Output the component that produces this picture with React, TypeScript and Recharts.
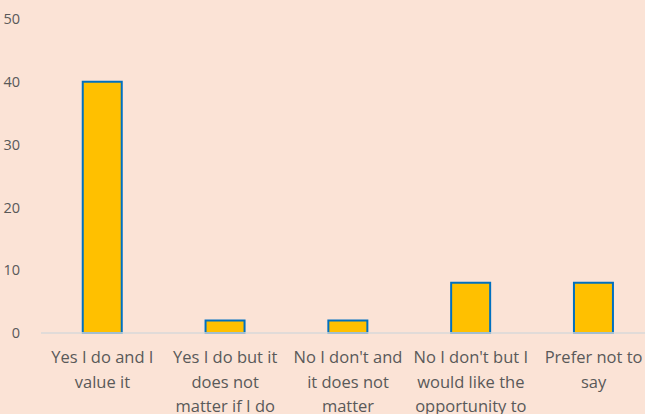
import React from "react";
import { BarChart, Bar, XAxis, YAxis } from "recharts";

const categories = [
  "Yes I do and I value it",
  "Yes I do but it does not matter if I do",
  "No I don't and it does not matter",
  "No I don't but I would like the opportunity to",
  "Prefer not to say",
];
const categoryLines = [
  ["Yes I do and I", "value it"],
  ["Yes I do but it", "does not", "matter if I do"],
  ["No I don't and", "it does not", "matter"],
  ["No I don't but I", "would like the", "opportunity to"],
  ["Prefer not to", "say"],
];
const values = [40, 2, 2, 8, 8];
const yTicks = [0, 10, 20, 30, 40, 50];

const data = categories.map((c, i) => ({ name: c, value: values[i], lines: categoryLines[i] }));

const FONT = "'Open Sans', sans-serif";

const XTick = (props: any) => {
  const { x, y, payload } = props;
  const idx = categories.indexOf(payload.value);
  const lines = idx >= 0 ? categoryLines[idx] : [String(payload.value)];
  return (
    <g transform={`translate(${x},${y})`}>
      <text textAnchor="middle" fill="#595959" fontSize={16.5} fontFamily={FONT}>
        {lines.map((l, i) => (
          <tspan key={i} x={0} y={22 + i * 24.5}>
            {l}
          </tspan>
        ))}
      </text>
    </g>
  );
};

export default function App() {
  return (
    <div
      style={{
        position: "fixed",
        left: 0,
        top: 0,
        width: 645,
        height: 414,
        overflow: "hidden",
        background: "#FBE3D6",
      }}
    >
      <BarChart
        width={660}
        height={414}
        data={data}
        margin={{ top: 19, right: 5, bottom: 0, left: 0 }}
        barCategoryGap="34%"
      >
        <XAxis
          dataKey="name"
          axisLine={{ stroke: "#D9D9D9", strokeWidth: 1.5 }}
          tickLine={false}
          interval={0}
          height={81}
          tick={<XTick />}
        />
        <YAxis
          domain={[0, 50]}
          ticks={yTicks}
          width={41}
          axisLine={false}
          tickLine={false}
          tick={{ fill: "#595959", fontSize: 14.5, fontFamily: FONT }}
          tickMargin={15}
        />
        <Bar
          dataKey="value"
          fill="#FFC000"
          stroke="#0070C0"
          strokeWidth={2}
          isAnimationActive={false}
        />
      </BarChart>
    </div>
  );
}
